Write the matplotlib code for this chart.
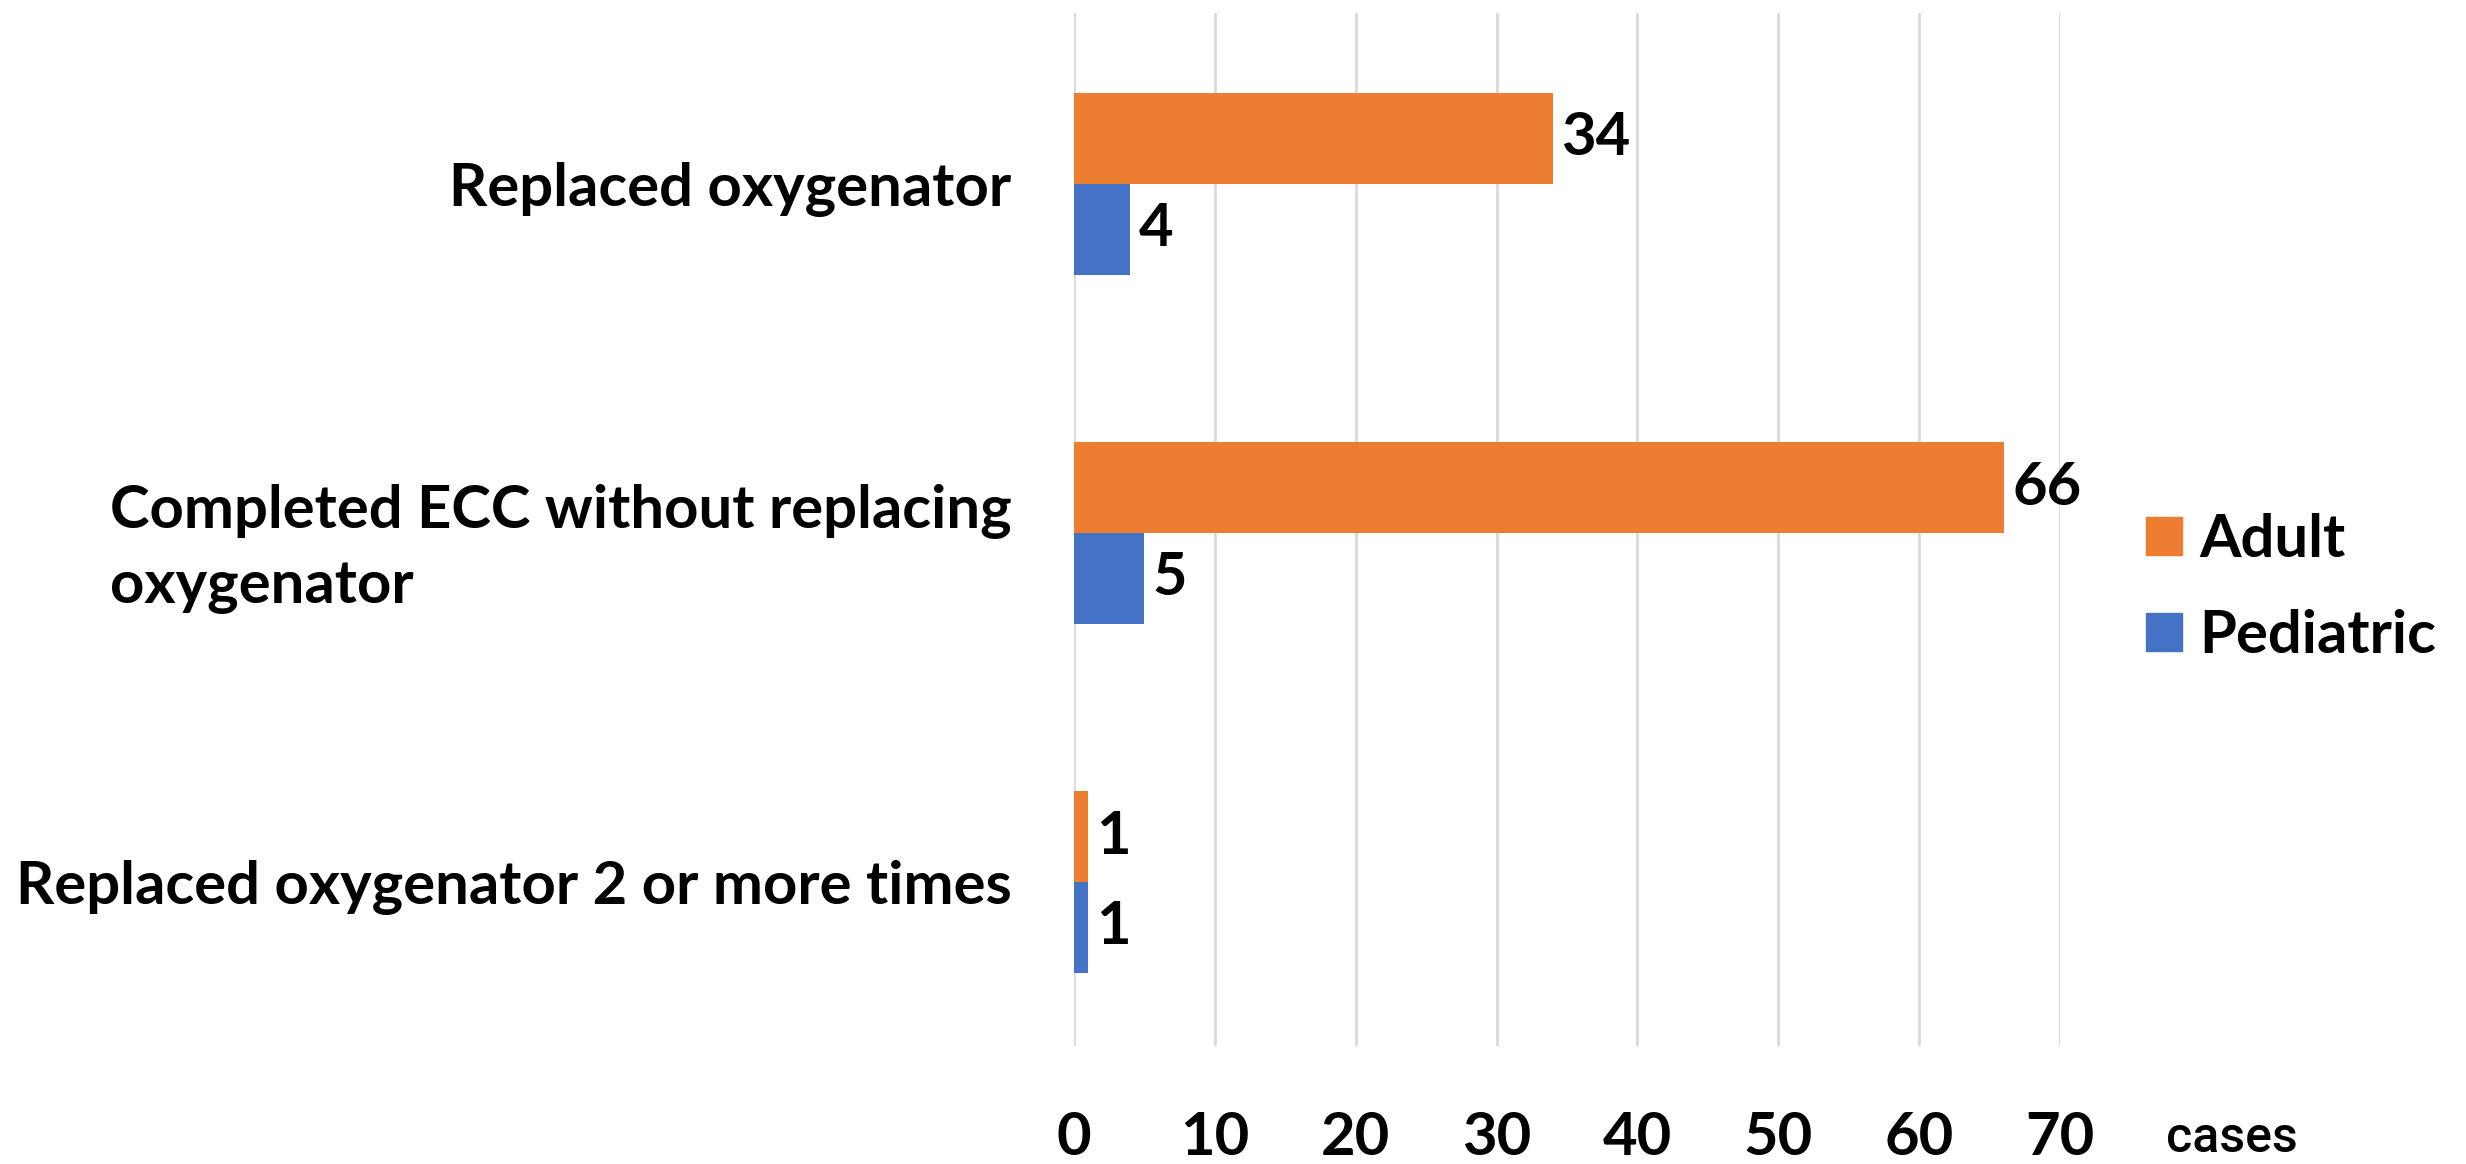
import matplotlib
matplotlib.use("Agg")
import matplotlib.pyplot as plt
from matplotlib.patches import Patch
import numpy as np

categories = ["Replaced oxygenator",
              "Completed ECC without replacing\noxygenator",
              "Replaced oxygenator 2 or more times"]
adult = [34, 66, 1]
pediatric = [4, 5, 1]
series_names = ["Adult", "Pediatric"]
xticks = [0, 10, 20, 30, 40, 50, 60, 70]
unit_label = "cases"

ORANGE = "#ED7D31"
BLUE = "#4472C4"
FONT = ["Lato", "DejaVu Sans"]
FS = 43

plt.rcParams['font.family'] = FONT

fig = plt.figure(figsize=(24.66, 11.64), dpi=100)
ax = fig.add_axes([0.4355, 0.1014, 0.3999, 0.8876])

y = np.arange(len(categories))
h = 0.26
b1 = ax.barh(y - h / 2, adult, height=h, color=ORANGE, zorder=3)
b2 = ax.barh(y + h / 2, pediatric, height=h, color=BLUE, zorder=3)

for bars, vals in ((b1, adult), (b2, pediatric)):
    for rect, v in zip(bars, vals):
        ax.annotate(str(v), (rect.get_width(), rect.get_y() + rect.get_height() / 2),
                    xytext=(6, 0), textcoords="offset points", ha="left", va="center",
                    fontsize=FS, fontweight="bold", color="black")

ax.set_ylim(2.47, -0.49)
ax.set_xlim(0, 70)
ax.set_xticks(xticks)
ax.set_xticklabels([str(t) for t in xticks], fontsize=FS, fontweight="bold")
ax.set_yticks(y)
ax.set_yticklabels(categories, fontsize=FS, fontweight="bold", multialignment="left",
                   linespacing=1.45)
ax.tick_params(axis="both", length=0)
ax.tick_params(axis="x", pad=47)
ax.tick_params(axis="y", pad=45)
ax.grid(axis="x", color="#D9D9D9", linewidth=2, zorder=0)
for s in ax.spines.values():
    s.set_visible(False)

fig.text(2232 / 2466, 1 - 1138 / 1164, unit_label, fontsize=36, fontweight="medium",
         family=["Roboto", "DejaVu Sans"], ha="center", va="center")

handles = [Patch(color=ORANGE), Patch(color=BLUE)]
leg = fig.legend(handles, series_names, loc="center left",
                 bbox_to_anchor=(2092 / 2466, 1 - 588 / 1164),
                 frameon=False, prop={"size": FS, "weight": "bold", "family": FONT},
                 handlelength=0.6, handleheight=0.6, handletextpad=0.3, labelspacing=0.7)

fig.savefig("out.png", dpi=100)
